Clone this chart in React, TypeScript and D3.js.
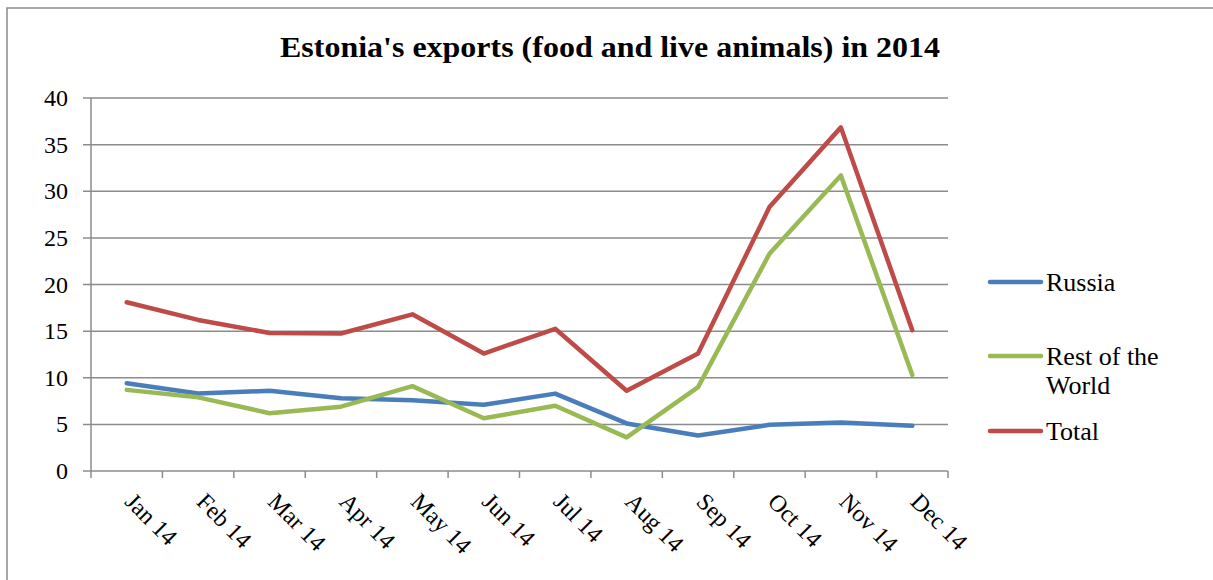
import React from "react";
import * as d3 from "d3";

const months = ["Jan 14", "Feb 14", "Mar 14", "Apr 14", "May 14", "Jun 14", "Jul 14", "Aug 14", "Sep 14", "Oct 14", "Nov 14", "Dec 14"];
const russia = [9.4, 8.3, 8.6, 7.8, 7.6, 7.1, 8.3, 5.1, 3.8, 4.95, 5.2, 4.85];
const restOfWorld = [8.7, 7.9, 6.2, 6.9, 9.1, 5.65, 7.0, 3.6, 9.0, 23.3, 31.7, 10.3];
const total = [18.1, 16.2, 14.8, 14.75, 16.8, 12.6, 15.25, 8.6, 12.6, 28.3, 36.85, 15.1];
const yTicks = [0, 5, 10, 15, 20, 25, 30, 35, 40];

const seriesNames = ["Russia", "Rest of the World", "Total"];
const seriesColors = ["#4a7ebb", "#98b954", "#be4b48"];
const seriesData = [russia, restOfWorld, total];

const W = 1213;
const H = 580;
const FONT = "'Liberation Serif', 'Times New Roman', serif";

export default function App() {
  const left = 91;
  const right = 948;
  const top = 98;
  const bottom = 471;

  const x = d3.scaleBand<string>().domain(months).range([left, right]).padding(0);
  const y = d3.scaleLinear().domain([0, 40]).range([bottom, top]);
  const cx = (m: string) => (x(m) as number) + x.bandwidth() / 2;

  const line = d3
    .line<number>()
    .x((_, i) => cx(months[i]))
    .y((d) => y(d));

  const gridColor = "#8c8c8c";

  const legendItems = [
    { name: ["Russia"], color: seriesColors[0], y: 282 },
    { name: ["Rest of the", "World"], color: seriesColors[1], y: 356 },
    { name: ["Total"], color: seriesColors[2], y: 431 },
  ];

  const xTickPositions = months.map((m) => x(m) as number).concat([right]);

  return (
    <svg
      width={W}
      height={H}
      style={{ position: "absolute", left: 0, top: 0, background: "#fff", fontFamily: FONT }}
    >
      <rect x={0} y={0} width={W} height={H} fill="#fff" />
      {/* outer frame */}
      <rect x={7} y={8} width={W + 20} height={H + 20} fill="none" stroke="#8a8a8a" strokeWidth={1.5} />

      {/* title */}
      <text
        x={610}
        y={57}
        textAnchor="middle"
        fontSize={30}
        fontWeight="bold"
        fill="#000"
        textLength={660}
        lengthAdjust="spacingAndGlyphs"
      >
        Estonia's exports (food and live animals) in 2014
      </text>

      {/* gridlines */}
      {yTicks.map((t) => (
        <line key={"g" + t} x1={left - 8} x2={right} y1={y(t)} y2={y(t)} stroke={gridColor} strokeWidth={1.5} />
      ))}
      {/* y axis */}
      <line x1={left} x2={left} y1={top} y2={bottom} stroke={gridColor} strokeWidth={1.5} />
      {yTicks.map((t) => (
        <text key={"yl" + t} x={68} y={y(t) + 8} textAnchor="end" fontSize={24} fill="#000">
          {t}
        </text>
      ))}

      {/* x axis ticks */}
      {xTickPositions.map((p, i) => (
        <line key={"xt" + i} x1={p} x2={p} y1={bottom} y2={bottom + 7} stroke={gridColor} strokeWidth={1.5} />
      ))}
      {months.map((m) => (
        <text
          key={"xl" + m}
          transform={`translate(${cx(m) - 3},${503}) rotate(45)`}
          textAnchor="start"
          fontSize={24}
          fill="#000"
        >
          {m}
        </text>
      ))}

      {/* series */}
      {seriesData.map((d, i) => (
        <path
          key={"s" + i}
          d={line(d) as string}
          fill="none"
          stroke={seriesColors[i]}
          strokeWidth={4.5}
          strokeLinejoin="round"
          strokeLinecap="round"
        />
      ))}

      {/* legend */}
      {legendItems.map((it, i) => (
        <g key={"lg" + i}>
          <line x1={990} x2={1041} y1={it.y} y2={it.y} stroke={it.color} strokeWidth={4.5} strokeLinecap="round" />
          {it.name.map((n, j) => (
            <text key={j} x={1046} y={it.y + 9 + j * 29} fontSize={26} fill="#000">
              {n}
            </text>
          ))}
        </g>
      ))}
    </svg>
  );
}
